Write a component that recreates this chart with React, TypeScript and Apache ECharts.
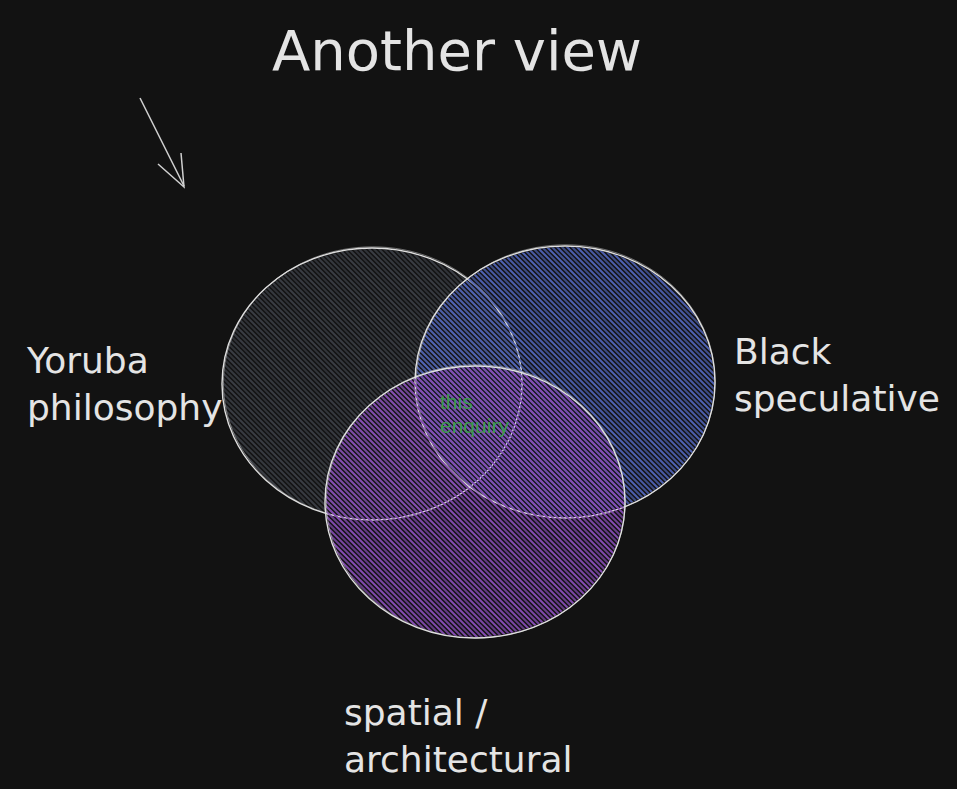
import React, { useEffect, useRef } from "react";
import * as echarts from "echarts";

// Venn sets (diagram coordinates in a 957 x 789 space)
const setNames = ["Yoruba\nphilosophy", "Black\nspeculative", "spatial /\narchitectural"];
const centerX = [372, 565, 475];
const centerY = [384, 382, 502];
const radiusX = [150, 150, 150];
const radiusY = [136, 136, 136];
const hatchColors = ["#3a3d44", "#4f62b4", "#854cb3"];
const overlapLabel = ["this", "enquiry"];
const titleText = "Another view";

function makeHatch(color: string) {
  const s = 30;
  const step = 5;
  const c = document.createElement("canvas");
  c.width = s;
  c.height = s;
  const ctx = c.getContext("2d")!;
  ctx.strokeStyle = color;
  ctx.lineWidth = 2;
  const alphas = [1, 0.75, 0.95, 0.7, 0.9, 0.8];
  const n = s / step;
  for (let k = -n; k <= n; k++) {
    const off = k * step;
    ctx.globalAlpha = alphas[((k % n) + n) % n];
    ctx.beginPath();
    ctx.moveTo(-3, off - 3);
    ctx.lineTo(s + 3, off + s + 3);
    ctx.stroke();
  }
  return c;
}

export default function App() {
  const ref = useRef<HTMLDivElement>(null);
  useEffect(() => {
    if (!ref.current) return;
    const chart = echarts.init(ref.current, undefined, { renderer: "svg" });
    const patterns = hatchColors.map(makeHatch);
    const data = centerX.map((x, i) => [x, centerY[i], radiusX[i], radiusY[i]]);
    const hand = "DejaVu Sans";
    const textColor = "#e4e4e4";
    const labelPos = [
      { left: 27, top: 337 },
      { left: 734, top: 328 },
      { left: 344, top: 689 },
    ];
    chart.setOption({
      animation: false,
      backgroundColor: "#121212",
      grid: { left: 0, right: 0, top: 0, bottom: 0 },
      xAxis: { type: "value", min: 0, max: 957, show: false },
      yAxis: { type: "value", min: 0, max: 789, inverse: true, show: false },
      series: [
        {
          type: "custom",
          data,
          renderItem: (params: any, api: any) => {
            const i = params.dataIndex;
            const c = api.coord([api.value(0), api.value(1)]);
            const sz = api.size([api.value(2), api.value(3)]);
            const rx = Math.abs(sz[0]);
            const ry = Math.abs(sz[1]);
            return {
              type: "group",
              children: [
                {
                  type: "ellipse",
                  shape: { cx: c[0], cy: c[1], rx: rx - 1, ry: ry - 1 },
                  style: { fill: { image: patterns[i], repeat: "repeat" }, stroke: null },
                },
                {
                  type: "ellipse",
                  shape: { cx: c[0], cy: c[1], rx, ry },
                  style: { fill: null, stroke: "#e0e0e0", lineWidth: 1.4 },
                },
                {
                  type: "ellipse",
                  shape: { cx: c[0] + 0.8, cy: c[1] - 0.7, rx: rx - 0.6, ry: ry + 0.5 },
                  style: { fill: null, stroke: "rgba(224,224,224,0.45)", lineWidth: 1 },
                },
              ],
            };
          },
        },
      ],
      graphic: [
        {
          type: "text",
          left: 272,
          top: 20,
          style: { text: titleText, fill: textColor, font: `normal 56px '${hand}'`, lineHeight: 60 },
        },
        ...setNames.map((t, i) => ({
          type: "text",
          left: labelPos[i].left,
          top: labelPos[i].top,
          style: { text: t, fill: textColor, font: `normal 36px '${hand}'`, lineHeight: 47 },
        })),
        {
          type: "text",
          left: 440,
          top: 389,
          z: 100,
          style: {
            text: overlapLabel.join("\n"),
            fill: "#3c9c4b",
            font: "21px 'Liberation Sans'",
            lineHeight: 24,
          },
        },
        {
          type: "polyline",
          shape: { points: [[140, 98], [184, 186]] },
          style: { stroke: "#d0d0d0", lineWidth: 1.5, fill: null },
        },
        {
          type: "polyline",
          shape: { points: [[158, 164], [184, 187], [181, 153]] },
          style: { stroke: "#d0d0d0", lineWidth: 1.5, fill: null },
        },
      ],
    });
    return () => chart.dispose();
  }, []);
  return (
    <div
      ref={ref}
      style={{ position: "fixed", left: 0, top: 0, width: 957, height: 789, background: "#121212" }}
    />
  );
}
